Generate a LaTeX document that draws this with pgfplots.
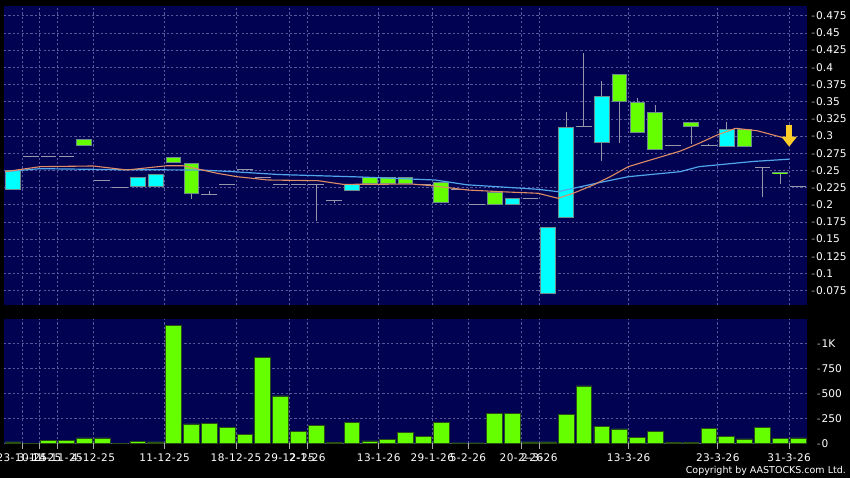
\documentclass[border=0pt]{standalone}
\usepackage{pgfplots}
\pgfplotsset{compat=1.18}
\usepackage{pgfplotstable}
\usepackage{fontspec}
\setmainfont{DejaVu Sans}
\newfontfamily\xtickfont[LetterSpace=4]{DejaVu Sans}
\usetikzlibrary{arrows.meta}

\definecolor{panel}{RGB}{2,2,82}
\definecolor{gridc}{RGB}{88,88,155}
\definecolor{upc}{RGB}{0,255,255}
\definecolor{dnc}{RGB}{102,255,0}
\definecolor{edgec}{RGB}{110,140,140}
\definecolor{wickc}{RGB}{150,150,170}
\definecolor{voledge}{RGB}{40,80,20}
\definecolor{maorange}{RGB}{222,140,100}
\definecolor{mablue}{RGB}{80,165,235}
\definecolor{arrowc}{RGB}{250,205,40}
\definecolor{tickc}{RGB}{170,170,170}

% candle bodies (outer edges of the box)
\pgfplotstableread{
x lo hi
0 0.2215 0.2500
7 0.2255 0.2400
8 0.2255 0.2443
19 0.2200 0.2298
28 0.2000 0.2094
30 0.0702 0.1672
31 0.1803 0.3135
33 0.2894 0.3586
40 0.2845 0.3098
}\cyanbody

\pgfplotstableread{
x lo hi
4 0.2855 0.2952
9 0.2603 0.2690
10 0.2157 0.2603
20 0.2298 0.2400
21 0.2298 0.2400
22 0.2298 0.2400
24 0.2021 0.2336
27 0.2000 0.2190
34 0.3490 0.3898
35 0.3039 0.3490
36 0.2797 0.3345
38 0.3135 0.3200
41 0.2845 0.3098
43 0.2443 0.2472
}\greenbody

% high-low wicks
\pgfplotstableread{
x lo hi
10 0.2090 0.2600
11 0.2146 0.2200
17 0.1768 0.2297
18 0.2030 0.2055
31 0.1803 0.3354
32 0.3135 0.4200
33 0.2640 0.3800
34 0.2894 0.3898
35 0.3039 0.3549
36 0.2797 0.3450
38 0.2884 0.3200
39 0.2855 0.2890
40 0.2845 0.3208
42 0.2109 0.2545
43 0.2302 0.2472
}\wicks

% days with open = close
\pgfplotstableread{
x y
1 0.2695
2 0.2695
3 0.2695
5 0.2356
6 0.2254
11 0.2146
12 0.2297
13 0.2506
14 0.2400
15 0.2297
16 0.2297
17 0.2297
18 0.2055
23 0.2297
25 0.2215
26 0.2000
29 0.2094
32 0.3135
37 0.2855
39 0.2855
42 0.2545
44 0.2263
}\flat

\pgfplotstableread{
x v
0 15
1 3
2 28
3 28
4 55
5 55
6 3
7 22
8 15
9 1182
10 195
11 202
12 162
13 88
14 862
15 475
16 122
17 182
18 12
19 212
20 25
21 38
22 108
23 72
24 208
25 5
26 5
27 302
28 302
29 15
30 15
31 292
32 575
33 168
34 145
35 58
36 122
37 10
38 10
39 152
40 72
41 45
42 158
43 48
44 55
}\vol

\pgfplotstableread{
x y
-0.44 0.2481
1.52 0.2554
4.49 0.2564
6.40 0.2506
8.64 0.2568
9.53 0.2568
11.44 0.2458
12.56 0.2408
14.30 0.2360
17.10 0.2350
18.50 0.2297
22.43 0.2300
23.55 0.2275
25.45 0.2215
27.30 0.2190
29.43 0.2167
30.55 0.2094
31.40 0.2167
32.52 0.2287
33.47 0.2408
34.48 0.2554
37.39 0.2780
38.45 0.2894
39.47 0.3015
40.50 0.3112
41.70 0.3077
42.60 0.3015
43.50 0.2950
}\maorangetab

\pgfplotstableread{
x y
-0.44 0.2481
1.52 0.2525
6.00 0.2510
10.49 0.2506
12.34 0.2481
14.86 0.2440
19.34 0.2405
23.66 0.2360
25.45 0.2290
29.43 0.2225
30.55 0.2190
32.91 0.2325
34.48 0.2408
37.39 0.2481
38.45 0.2554
41.49 0.2630
43.50 0.2663
}\mabluetab

\newcommand\yl[1]{\textcolor{tickc}{-}\hspace{1pt}#1}

\pgfplotsset{panel/.style={
  scale only axis, width=803pt, xmin=-0.5, xmax=44.5,
  axis background/.style={fill=panel},
  axis line style={draw=none},
  grid=major,
  major grid style={gridc, line width=0.6pt, dash pattern=on 2.2pt off 2.2pt},
  xtick={0.5,1.5,2.5,4.5,8.5,12.5,15.5,16.5,20.5,23.5,25.5,28.5,29.5,34.5,39.5,43.5},
  ytick pos=right, yticklabel pos=right,
  ytick style={draw=none},
  yticklabel style={font=\fontsize{10.6}{12}\selectfont, text=white,
    anchor=west, inner sep=0pt, xshift=4.2pt},
}}

\begin{document}
\begin{tikzpicture}
\useasboundingbox (0pt,0pt) rectangle (850pt,478pt);
\fill[black] (0pt,0pt) rectangle (850pt,478pt);

% price panel
\begin{axis}[panel, at={(4pt,173pt)}, anchor=south west, height=299pt,
  ymin=0.0542, ymax=0.4891,
  xticklabels={}, xtick style={draw=none},
  ytick={0.075,0.1,0.125,0.15,0.175,0.2,0.225,0.25,0.275,0.3,0.325,0.35,0.375,0.4,0.425,0.45,0.475},
  yticklabels={\yl{0.075},\yl{0.1},\yl{0.125},\yl{0.15},\yl{0.175},\yl{0.2},\yl{0.225},\yl{0.25},
    \yl{0.275},\yl{0.3},\yl{0.325},\yl{0.35},\yl{0.375},\yl{0.4},\yl{0.425},\yl{0.45},\yl{0.475}},
]
% wicks
\addplot[draw=none, mark=none, error bars/.cd, y dir=plus, y explicit, error mark=none,
  error bar style={line width=1pt, draw=wickc}]
  table[x=x, y=lo, y error expr=\thisrow{hi}-\thisrow{lo}] {\wicks};
% flat days
\addplot[draw=none, mark=none, error bars/.cd, x dir=both, x fixed=0.44, error mark=none,
  error bar style={line width=1pt, draw=wickc}]
  table[x=x, y=y] {\flat};
% bodies: edge, then fill
\addplot[draw=none, mark=none, error bars/.cd, y dir=plus, y explicit, error mark=none,
  error bar style={line width=15.7pt, draw=edgec}]
  table[x=x, y=lo, y error expr=\thisrow{hi}-\thisrow{lo}] {\cyanbody};
\addplot[draw=none, mark=none, error bars/.cd, y dir=plus, y explicit, error mark=none,
  error bar style={line width=13.7pt, draw=upc}]
  table[x=x, y expr=\thisrow{lo}+0.0015, y error expr=\thisrow{hi}-\thisrow{lo}-0.003] {\cyanbody};
\addplot[draw=none, mark=none, error bars/.cd, y dir=plus, y explicit, error mark=none,
  error bar style={line width=15.7pt, draw=edgec}]
  table[x=x, y=lo, y error expr=\thisrow{hi}-\thisrow{lo}] {\greenbody};
\addplot[draw=none, mark=none, error bars/.cd, y dir=plus, y explicit, error mark=none,
  error bar style={line width=13.7pt, draw=dnc}]
  table[x=x, y expr=\thisrow{lo}+0.0015, y error expr=\thisrow{hi}-\thisrow{lo}-0.003] {\greenbody};
% moving averages
\addplot[mablue, line width=1.2pt, mark=none, line join=round] table[x=x, y=y] {\mabluetab};
\addplot[maorange, line width=1.1pt, mark=none, line join=round] table[x=x, y=y] {\maorangetab};
% latest-day marker
\draw[arrowc, line width=5.5pt, -{Triangle[length=10pt, width=15pt]}]
  (axis cs:43.5,0.3165) -- (axis cs:43.5,0.2845);
\end{axis}

% volume panel
\begin{axis}[panel, at={(4pt,34.5pt)}, anchor=south west, height=124.5pt,
  ymin=0, ymax=1245,
  ytick={0,250,500,750,1000},
  yticklabels={\yl{0},\yl{250},\yl{500},\yl{750},\yl{1K}},
  xtick pos=bottom, tick align=outside, major tick length=5.5pt,
  xtick style={draw=tickc, line width=0.6pt},
  xticklabels={23-10-25,3-11-25,14-11-25,4-12-25,11-12-25,18-12-25,29-12-25,2-1-26,
    13-1-26,29-1-26,5-2-26,20-2-26,2-3-26,13-3-26,23-3-26,31-3-26},
  xticklabel style={font=\xtickfont\fontsize{10.5}{12}\selectfont, text=white,
    anchor=north, inner sep=0pt, yshift=-4.5pt},
]
\addplot[ybar, bar width=0.88, bar shift=0pt, fill=dnc, draw=voledge, line width=0.8pt]
  table[x=x, y=v] {\vol};
\end{axis}

\node[anchor=base east, inner sep=0pt, text=white, font=\fontsize{9.5}{11}\selectfont]
  at (846pt,4.4pt) {Copyright by AASTOCKS.com Ltd.};
\end{tikzpicture}
\end{document}
